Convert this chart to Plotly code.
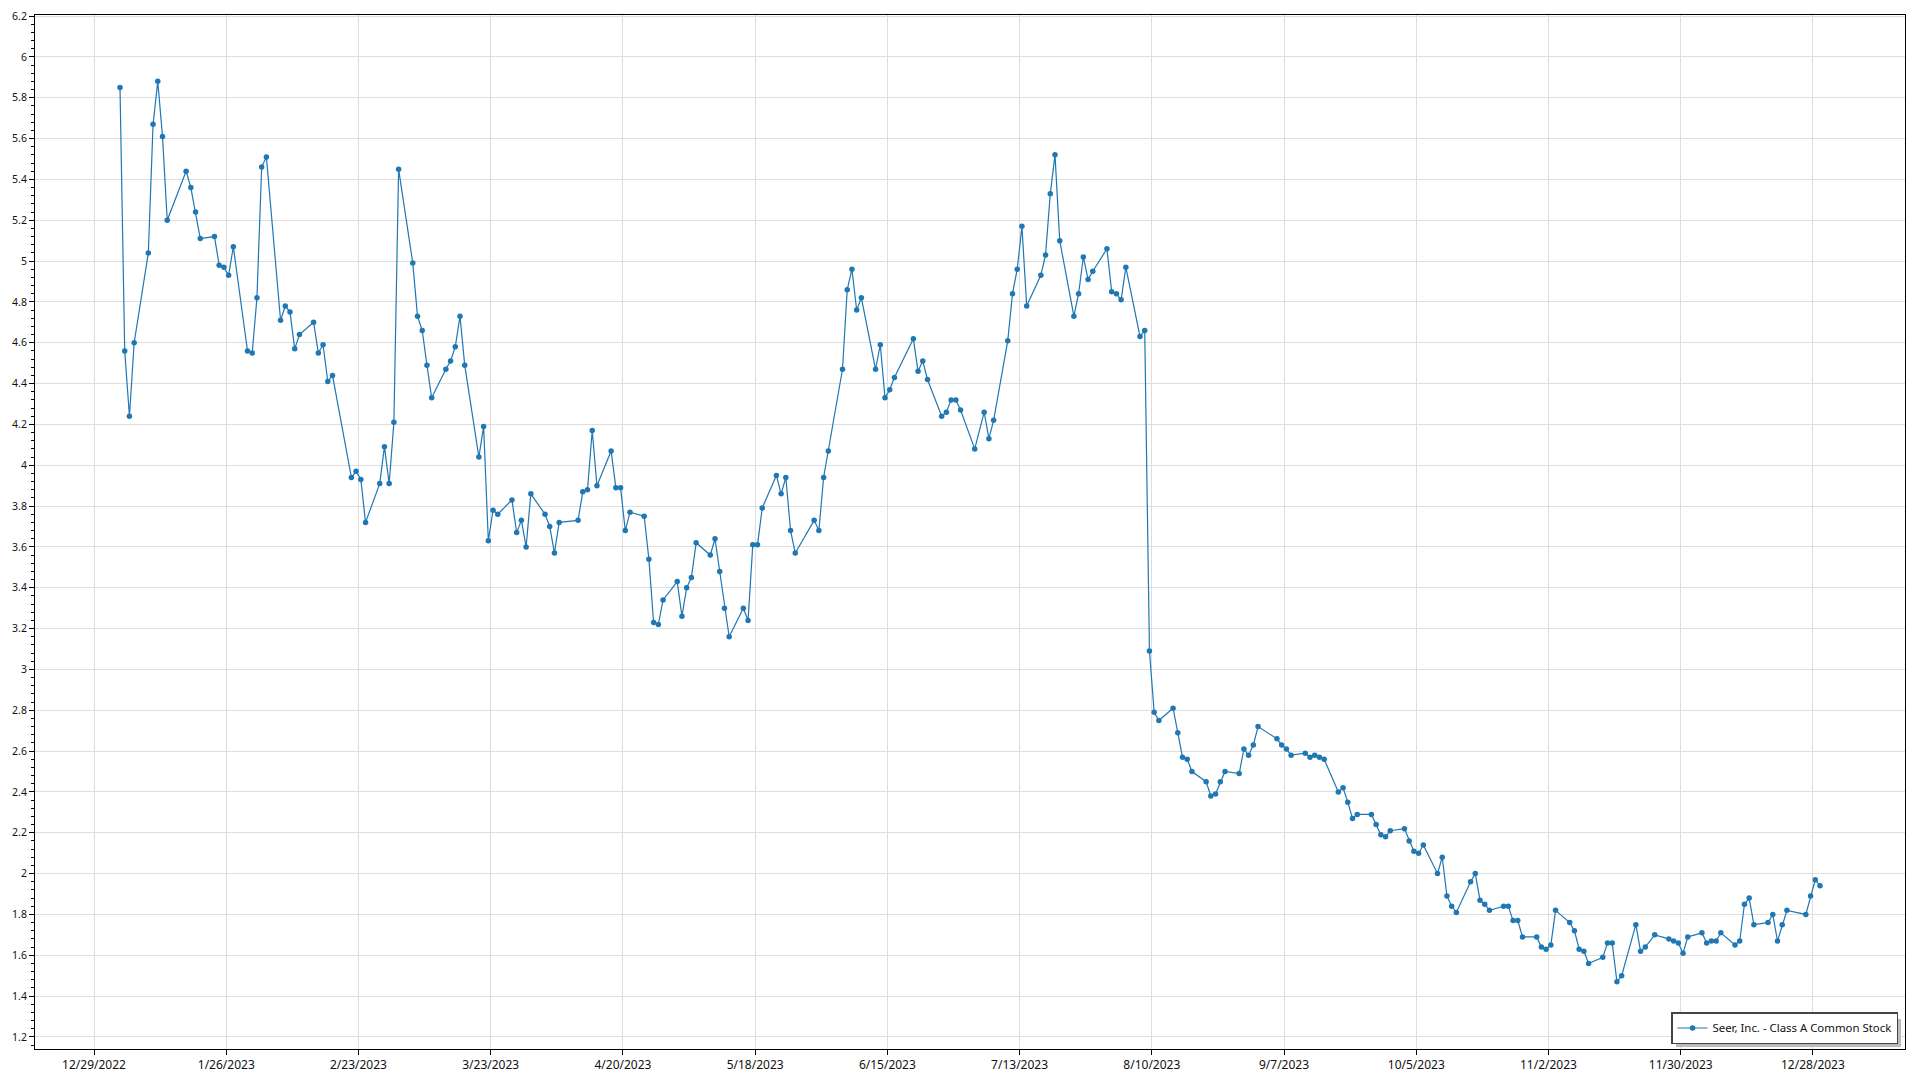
import datetime as dt
import plotly.graph_objects as go

# ---- data: trading days (day-of-month) and closing prices per month, 2023 ----
months = [1, 2, 3, 4, 5, 6, 7, 8, 9, 10, 11, 12]
jan_days = [3, 4, 5, 6, 9, 10, 11, 12, 13, 17, 18, 19, 20, 23, 24, 25, 26, 27, 30, 31]
jan_vals = [5.85, 4.56, 4.24, 4.60, 5.04, 5.67, 5.88, 5.61, 5.20, 5.44, 5.36, 5.24, 5.11, 5.12, 4.98, 4.97, 4.93, 5.07, 4.56, 4.55]
feb_days = [1, 2, 3, 6, 7, 8, 9, 10, 13, 14, 15, 16, 17, 21, 22, 23, 24, 27, 28]
feb_vals = [4.82, 5.46, 5.51, 4.71, 4.78, 4.75, 4.57, 4.64, 4.70, 4.55, 4.59, 4.41, 4.44, 3.94, 3.97, 3.93, 3.72, 3.91, 4.09]
mar_days = [1, 2, 3, 6, 7, 8, 9, 10, 13, 14, 15, 16, 17, 20, 21, 22, 23, 24, 27, 28, 29, 30, 31]
mar_vals = [3.91, 4.21, 5.45, 4.99, 4.73, 4.66, 4.49, 4.33, 4.47, 4.51, 4.58, 4.73, 4.49, 4.04, 4.19, 3.63, 3.78, 3.76, 3.83, 3.67, 3.73, 3.60, 3.86]
apr_days = [3, 4, 5, 6, 10, 11, 12, 13, 14, 17, 18, 19, 20, 21, 24, 25, 26, 27, 28]
apr_vals = [3.76, 3.70, 3.57, 3.72, 3.73, 3.87, 3.88, 4.17, 3.90, 4.07, 3.89, 3.89, 3.68, 3.77, 3.75, 3.54, 3.23, 3.22, 3.34]
may_days = [1, 2, 3, 4, 5, 8, 9, 10, 11, 12, 15, 16, 17, 18, 19, 22, 23, 24, 25, 26, 30, 31]
may_vals = [3.43, 3.26, 3.40, 3.45, 3.62, 3.56, 3.64, 3.48, 3.30, 3.16, 3.30, 3.24, 3.61, 3.61, 3.79, 3.95, 3.86, 3.94, 3.68, 3.57, 3.73, 3.68]
jun_days = [1, 2, 5, 6, 7, 8, 9, 12, 13, 14, 15, 16, 20, 21, 22, 23, 26, 27, 28, 29, 30]
jun_vals = [3.94, 4.07, 4.47, 4.86, 4.96, 4.76, 4.82, 4.47, 4.59, 4.33, 4.37, 4.43, 4.62, 4.46, 4.51, 4.42, 4.24, 4.26, 4.32, 4.32, 4.27]
jul_days = [3, 5, 6, 7, 10, 11, 12, 13, 14, 17, 18, 19, 20, 21, 24, 25, 26, 27, 28, 31]
jul_vals = [4.08, 4.26, 4.13, 4.22, 4.61, 4.84, 4.96, 5.17, 4.78, 4.93, 5.03, 5.33, 5.52, 5.10, 4.73, 4.84, 5.02, 4.91, 4.95, 5.06]
aug_days = [1, 2, 3, 4, 7, 8, 9, 10, 11, 14, 15, 16, 17, 18, 21, 22, 23, 24, 25, 28, 29, 30, 31]
aug_vals = [4.85, 4.84, 4.81, 4.97, 4.63, 4.66, 3.09, 2.79, 2.75, 2.81, 2.69, 2.57, 2.56, 2.50, 2.45, 2.38, 2.39, 2.45, 2.50, 2.49, 2.61, 2.58, 2.63]
sep_days = [1, 5, 6, 7, 8, 11, 12, 13, 14, 15, 18, 19, 20, 21, 22, 25, 26, 27, 28, 29]
sep_vals = [2.72, 2.66, 2.63, 2.61, 2.58, 2.59, 2.57, 2.58, 2.57, 2.56, 2.40, 2.42, 2.35, 2.27, 2.29, 2.29, 2.24, 2.19, 2.18, 2.21]
oct_days = [2, 3, 4, 5, 6, 9, 10, 11, 12, 13, 16, 17, 18, 19, 20, 23, 24, 25, 26, 27, 30, 31]
oct_vals = [2.22, 2.16, 2.11, 2.10, 2.14, 2.00, 2.08, 1.89, 1.84, 1.81, 1.96, 2.00, 1.87, 1.85, 1.82, 1.84, 1.84, 1.77, 1.77, 1.69, 1.69, 1.64]
nov_days = [1, 2, 3, 6, 7, 8, 9, 10, 13, 14, 15, 16, 17, 20, 21, 22, 24, 27, 28, 29, 30]
nov_vals = [1.63, 1.65, 1.82, 1.76, 1.72, 1.63, 1.62, 1.56, 1.59, 1.66, 1.66, 1.47, 1.50, 1.75, 1.62, 1.64, 1.70, 1.68, 1.67, 1.66, 1.61]
dec_days = [1, 4, 5, 6, 7, 8, 11, 12, 13, 14, 15, 18, 19, 20, 21, 22, 26, 27, 28, 29]
dec_vals = [1.69, 1.71, 1.66, 1.67, 1.67, 1.71, 1.65, 1.67, 1.85, 1.88, 1.75, 1.76, 1.80, 1.67, 1.75, 1.82, 1.80, 1.89, 1.97, 1.94]

series_name = "Seer, Inc. - Class A Common Stock"
x_tick_dates = ["2022-12-29", "2023-01-26", "2023-02-23", "2023-03-23", "2023-04-20", "2023-05-18",
                "2023-06-15", "2023-07-13", "2023-08-10", "2023-09-07", "2023-10-05", "2023-11-02",
                "2023-11-30", "2023-12-28"]
y_tick_vals = [1.2, 1.4, 1.6, 1.8, 2.0, 2.2, 2.4, 2.6, 2.8, 3.0, 3.2, 3.4, 3.6, 3.8, 4.0,
               4.2, 4.4, 4.6, 4.8, 5.0, 5.2, 5.4, 5.6, 5.8, 6.0, 6.2]

# ---- assemble ----
all_days = [jan_days, feb_days, mar_days, apr_days, may_days, jun_days,
            jul_days, aug_days, sep_days, oct_days, nov_days, dec_days]
all_vals = [jan_vals, feb_vals, mar_vals, apr_vals, may_vals, jun_vals,
            jul_vals, aug_vals, sep_vals, oct_vals, nov_vals, dec_vals]
x, y = [], []
for m, ds, vs in zip(months, all_days, all_vals):
    assert len(ds) == len(vs), m
    for d, v in zip(ds, vs):
        x.append(dt.datetime(2023, m, d, 12, 0))
        y.append(v)

tick_text = []
for s in x_tick_dates:
    t = dt.date.fromisoformat(s)
    tick_text.append(f"{t.month}/{t.day}/{t.year}")

FONT = "Segoe UI, Noto Sans, Open Sans, sans-serif"
COLOR = "#1f77b4"

fig = go.Figure()
fig.add_trace(go.Scatter(
    x=x, y=y, mode="lines+markers", name=series_name,
    line=dict(color=COLOR, width=1.2),
    marker=dict(color=COLOR, size=5.5),
    showlegend=True,
))

L, R, T, B = 35, 15, 15, 31
W, H = 1920, 1080
pw, ph = W - L - R, H - T - B


def px_x(p):
    return (p - L) / pw


def px_y(p):
    return (H - B - p) / ph


fig.update_layout(
    width=W, height=H,
    margin=dict(l=L, r=R, t=T, b=B, pad=0, autoexpand=False),
    paper_bgcolor="white", plot_bgcolor="white",
    font=dict(family=FONT, size=12, color="#111111"),
    showlegend=True,
    legend=dict(
        x=px_x(1898), y=px_y(1044), xanchor="right", yanchor="bottom",
        bgcolor="white", bordercolor="#444444", borderwidth=1.5,
        font=dict(family=FONT, size=11.4, color="#111111"),
        itemwidth=30,
    ),
    xaxis=dict(
        type="date", automargin=False,
        range=["2022-12-16 12:00", "2024-01-16 12:00"],
        tickmode="array", tickvals=x_tick_dates, ticktext=tick_text,
        showgrid=True, gridcolor="#dedede", gridwidth=1,
        showline=True, linecolor="black", linewidth=1, mirror=True,
        ticks="outside", ticklen=5, tickcolor="black",
        tickfont=dict(family=FONT, size=12, color="#111111"),
        zeroline=False,
    ),
    yaxis=dict(
        automargin=False,
        range=[1.141, 6.205],
        tickmode="array", tickvals=y_tick_vals,
        ticktext=[f"{v:g}" for v in y_tick_vals],
        showgrid=True, gridcolor="#dedede", gridwidth=1,
        showline=True, linecolor="black", linewidth=1, mirror=True,
        ticks="outside", ticklen=5, tickcolor="black",
        tickfont=dict(family=FONT, size=10.5, color="#111111"),
        minor=dict(tickmode="linear", tick0=1.2, dtick=0.04, ticks="outside",
                   ticklen=3, tickcolor="black", showgrid=False),
        zeroline=False,
    ),
    shapes=[dict(
        type="rect", xref="paper", yref="paper", layer="above",
        x0=px_x(1676), x1=px_x(1901), y0=px_y(1047), y1=px_y(1019),
        fillcolor="#bbbbbb", line=dict(width=0),
    )],
)

fig.write_html(
    "out.html",
    config={"displayModeBar": False},
    post_script="document.body.style.margin='0';document.body.style.overflow='hidden';",
)
